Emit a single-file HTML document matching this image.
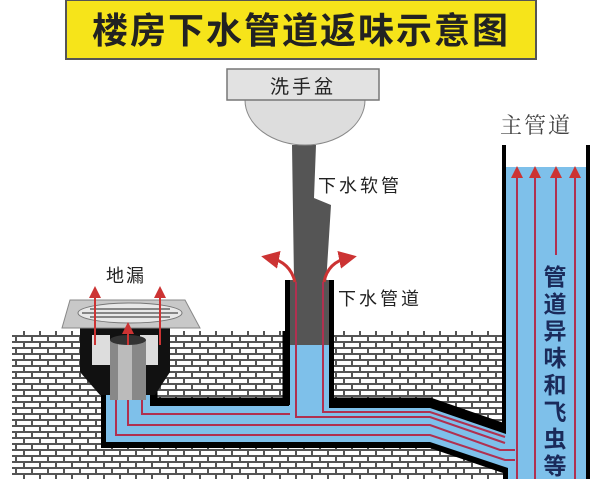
<!DOCTYPE html>
<html><head><meta charset="utf-8"><style>
html,body{margin:0;padding:0;background:#fff;}
svg{display:block;}
text{font-family:"Liberation Sans","Noto Sans CJK SC",sans-serif;}
</style></head><body>
<svg width="600" height="479" viewBox="0 0 600 479" xmlns="http://www.w3.org/2000/svg">
<defs>
<pattern id="brick" width="16" height="12" patternUnits="userSpaceOnUse">
<rect width="16" height="12" fill="#555"/>
<rect x="1" y="1" width="14" height="4" fill="#fff"/>
<rect x="-7" y="7" width="14" height="4" fill="#fff"/>
<rect x="9" y="7" width="14" height="4" fill="#fff"/>
</pattern>
<marker id="ah" markerWidth="6" markerHeight="6" refX="3" refY="3" orient="auto"><path d="M0,0 L6,3 L0,6z" fill="#c33"/></marker>
</defs>
<!-- title -->
<rect x="66" y="0" width="470" height="59" fill="#f6e41a" stroke="#555" stroke-width="2"/>
<text x="301" y="43" font-size="36" font-weight="bold" text-anchor="middle" fill="#222" letter-spacing="2">楼房下水管道返味示意图</text>
<!-- bricks background -->
<rect x="12" y="331" width="491" height="148" fill="url(#brick)"/>
<!-- pipe outer black -->
<path d="M101,380 L101,448 L430,448 L503,473 L503,479 L590,479 L590,145 L502,145 L502,425 L430,400 L333,400 L333,280 L285,280 L285,400 L155,400 L155,380 Z" fill="#000"/>
<!-- blue inner -->
<path d="M106,380 L106,442 L430,442 L508,468 L508,479 L586,479 L586,155 L506,155 L506,434 L430,408 L329,408 L329,280 L289,280 L289,406 L150,406 L150,380 Z" fill="#7ec0ea"/>
<rect x="506" y="145" width="80" height="22" fill="#fff"/>
<!-- brick blocks above pipe -->
<path d="M155,331 L285,331 L285,400 L155,400 Z" fill="url(#brick)"/>
<path d="M155,331 L155,400 L285,400 L285,331" fill="none" stroke="#000" stroke-width="5"/>
<path d="M333,331 L502,331 L502,425 L430,400 L333,400 Z" fill="url(#brick)"/>
<path d="M502,425 L430,400 L333,400" fill="none" stroke="#000" stroke-width="5"/>
<rect x="285" y="280" width="5" height="125" fill="#000"/>
<rect x="329" y="280" width="5" height="122" fill="#000"/>
<!-- hose -->
<path d="M292,145 L316,145 L314,198 L331,205 L325,300 L323,345 L295,345 L294,280 Z" fill="#555"/>
<rect x="290" y="280" width="39" height="65" fill="#555"/>
<!-- red lines -->
<g fill="none" stroke="#b03050" stroke-width="2">
<path d="M116,395 L116,435 L430,435 L505,460 L515,460"/>
<path d="M128,395 L128,425 L430,425 L500,450 L515,450"/>
<path d="M142,395 L142,414 L290,414"/>
<path d="M296,282 L296,417 L430,417 L505,443"/>
<path d="M323,282 L323,412 L430,412 L505,437"/>
<path d="M517,479 L517,172" marker-end="url(#ah)"/>
<path d="M535,479 L535,172" marker-end="url(#ah)"/>
<path d="M556,255 L556,172" marker-end="url(#ah)"/>
<path d="M575,479 L575,172" marker-end="url(#ah)"/>
<path d="M295,282 Q290,262 270,258" stroke="#c33" stroke-width="3" marker-end="url(#ah)"/>
<path d="M324,282 Q328,262 348,258" stroke="#c33" stroke-width="3" marker-end="url(#ah)"/>
</g>
<!-- sink -->
<path d="M245,100 A60,45 0 0 0 365,100 Z" fill="#ddd" stroke="#888"/>
<rect x="227" y="69" width="152" height="31" fill="#e2e2e2" stroke="#777" stroke-width="1.5"/>
<text x="303" y="93" font-size="19" text-anchor="middle" fill="#222" letter-spacing="3">洗手盆</text>
<text x="318" y="192" font-size="18" fill="#222" letter-spacing="3">下水软管</text>
<text x="338" y="305" font-size="18" fill="#222" letter-spacing="3">下水管道</text>
<text x="106" y="282" font-size="18" fill="#222" letter-spacing="2">地漏</text>
<text x="500" y="133" font-size="22" fill="#444" letter-spacing="2" style="font-family:'Liberation Serif','Noto Serif CJK SC',serif">主管道</text>
<!-- floor drain -->
<path d="M80,328 L80,372 L100,395 L155,395 L170,372 L170,328 Z" fill="#111"/>
<rect x="92" y="335" width="18" height="30" fill="#ddd"/>
<rect x="140" y="335" width="18" height="30" fill="#ddd"/>
<rect x="110" y="340" width="36" height="60" fill="#888"/>
<rect x="118" y="340" width="14" height="60" fill="#bbb"/>
<ellipse cx="128" cy="340" rx="18" ry="5" fill="#333"/>
<path d="M70,300 L185,300 L200,328 L62,328 Z" fill="#c8c8c8" stroke="#888"/>
<ellipse cx="130" cy="313" rx="52" ry="10" fill="#e8e8e8" stroke="#777"/>
<g stroke="#666" stroke-width="1.5"><line x1="90" y1="309" x2="170" y2="309"/><line x1="82" y1="313" x2="178" y2="313"/><line x1="90" y1="317" x2="170" y2="317"/></g>
<g fill="none" stroke="#c33" stroke-width="2"><path d="M95,345 L95,292" marker-end="url(#ah)"/><path d="M160,345 L160,292" marker-end="url(#ah)"/><path d="M128,345 L128,328" marker-end="url(#ah)"/></g>
<!-- vertical text -->
<g font-size="23" font-weight="bold" fill="#1a2a5a" text-anchor="middle">
<text x="555" y="285">管</text><text x="555" y="312">道</text><text x="555" y="339">异</text><text x="555" y="366">味</text><text x="555" y="393">和</text><text x="555" y="420">飞</text><text x="555" y="447">虫</text><text x="555" y="474">等</text>
</g>
</svg>
</body></html>
